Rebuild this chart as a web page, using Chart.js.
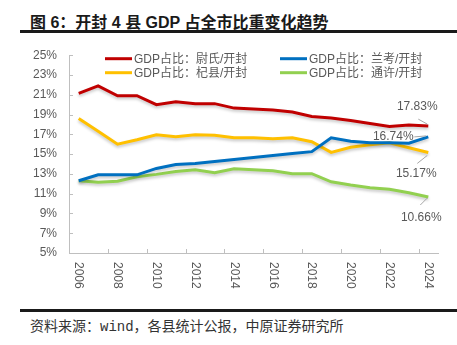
<!DOCTYPE html>
<html lang="zh-CN">
<head>
<meta charset="UTF-8">
<title>开封4县GDP占全市比重变化趋势</title>
<style>
  body { margin: 0; background: #fff; width: 457px; height: 345px; position: relative; overflow: hidden; }
  .title { position: absolute; left: 30px; top: 9px; line-height: 20px; font: bold 16px "Liberation Sans", "Noto Sans CJK SC", sans-serif; color: #1a1a1a; white-space: nowrap; }
  .rule { position: absolute; left: 20px; right: 0; height: 3px; background: #1a1a1a; }
  .source { position: absolute; left: 30px; top: 315px; line-height: 18px; font: 14px "Liberation Mono", "Noto Sans CJK SC", monospace; color: #333; white-space: nowrap; }
  #wrap { position: absolute; left: 0; top: 36px; width: 457px; height: 270px; }
</style>
<script src="https://cdn.jsdelivr.net/npm/chart.js"></script>
</head>
<body>
<div class="title">图 6：开封 4 县 GDP 占全市比重变化趋势</div>
<div class="rule" style="top:30px"></div>
<div id="wrap"><canvas id="chart" width="457" height="270"></canvas></div>
<div class="rule" style="top:309px"></div>
<div class="source">资料来源：wind，各县统计公报，中原证券研究所</div>

<script>
// 年份与各县 GDP 占开封全市比重（%）
const years = ['2006','2007','2008','2009','2010','2011','2012','2013','2014','2015',
               '2016','2017','2018','2019','2020','2021','2022','2023','2024'];
const weishi = [21.15, 21.9, 20.9, 20.9, 20.0, 20.3, 20.1, 20.1, 19.65, 19.55,
                19.45, 19.25, 18.8, 18.66, 18.4, 18.1, 17.8, 17.95, 17.83];
const lankao = [12.3, 12.9, 12.9, 12.9, 13.55, 13.95, 14.05, 14.25, 14.45, 14.65,
                14.85, 15.05, 15.25, 16.65, 16.3, 16.15, 16.15, 16.1, 16.74];
const qixian = [18.6, 17.3, 16.0, 16.45, 16.95, 16.75, 16.95, 16.9, 16.65, 16.65,
                16.55, 16.65, 16.25, 15.17, 15.7, 15.95, 16.15, 15.65, 15.17];
const tongxu = [12.3, 12.15, 12.25, 12.7, 12.95, 13.25, 13.42, 13.12, 13.52, 13.42,
                13.32, 13.02, 13.02, 12.2, 11.87, 11.6, 11.45, 11.1, 10.66];
const seriesNames = ['GDP占比：尉氏/开封', 'GDP占比：兰考/开封', 'GDP占比：杞县/开封', 'GDP占比：通许/开封'];
const yTicks = [5, 7, 9, 11, 13, 15, 17, 19, 21, 23, 25];

const FONT = '"Liberation Sans", "Noto Sans CJK SC", sans-serif';
const TEXT_GRAY = '#595959';
const AXIS_GRAY = '#bfbfbf';
const colors = ['#c00000', '#0070c0', '#ffc000', '#92d050'];

// legend slots (x of line start, row offset from top of plot)
const legendSlots = [[105, 3.5], [280, 3.5], [105, 17.5], [280, 17.5]];
// end-value label offsets from the last point: text centre dx/dy, leader line
const endLabels = [
  { dx: -11, dy: -19, lead: [-10, -7, -1, -2] },
  { dx: -35, dy: 0, lead: [-14, 0, -2, -1] },
  { dx: -12, dy: 21, lead: [-11, 11, -1, 3] },
  { dx: -7, dy: 21, lead: [-8, 8, -1, 1] }
];

const lineShadow = {
  id: 'lineShadow',
  beforeDatasetDraw(chart) {
    const c = chart.ctx;
    c.save();
    c.shadowColor = 'rgba(0,0,0,0.22)';
    c.shadowBlur = 3;
    c.shadowOffsetY = 2;
  },
  afterDatasetDraw(chart) {
    chart.ctx.restore();
  }
};

const axisExtras = {
  id: 'axisExtras',
  afterDraw(chart) {
    const c = chart.ctx;
    const area = chart.chartArea;
    const xs = chart.scales.x, ys = chart.scales.y;
    c.save();
    c.strokeStyle = AXIS_GRAY;
    c.lineWidth = 1;
    // inner tick marks on the value axis
    yTicks.forEach(v => {
      const y = Math.round(ys.getPixelForValue(v)) + 0.5;
      c.beginPath(); c.moveTo(area.left, y); c.lineTo(area.left + 4, y); c.stroke();
    });
    // inner tick marks on the category axis, every two years
    const step = xs.getPixelForValue(1) - xs.getPixelForValue(0);
    for (let k = 2; k <= years.length + 1; k += 2) {
      const x = Math.round(xs.getPixelForValue(k - 1) + step / 2) + 0.5;
      c.beginPath(); c.moveTo(x, area.bottom); c.lineTo(x, area.bottom - 4); c.stroke();
    }
    // year labels, rotated clockwise
    c.fillStyle = TEXT_GRAY;
    c.font = '12px ' + FONT;
    c.textAlign = 'left';
    c.textBaseline = 'middle';
    years.forEach((yr, i) => {
      if (i % 2) return;
      c.save();
      c.translate(xs.getPixelForValue(i), area.bottom + 9);
      c.rotate(Math.PI / 2);
      c.fillText(yr, 0, 0);
      c.restore();
    });
    // legend
    chart.data.datasets.forEach((ds, i) => {
      const [lx, off] = legendSlots[i];
      const y = area.top + off;
      c.strokeStyle = ds.borderColor;
      c.lineWidth = 3;
      c.beginPath(); c.moveTo(lx, y); c.lineTo(lx + 27, y); c.stroke();
      c.fillStyle = TEXT_GRAY;
      c.fillText(ds.label, lx + 29, y + 0.5);
    });
    // end-of-series value labels
    c.textAlign = 'center';
    chart.data.datasets.forEach((ds, i) => {
      const meta = chart.getDatasetMeta(i);
      const last = ds.data.length - 1;
      const p = meta.data[last];
      const s = endLabels[i];
      c.strokeStyle = '#a6a6a6';
      c.lineWidth = 1;
      c.beginPath();
      c.moveTo(p.x + s.lead[0], p.y + s.lead[1]);
      c.lineTo(p.x + s.lead[2], p.y + s.lead[3]);
      c.stroke();
      c.fillStyle = TEXT_GRAY;
      c.fillText(ds.data[last].toFixed(2) + '%', p.x + s.dx, p.y + s.dy);
    });
    c.restore();
  }
};

const seriesData = [weishi, lankao, qixian, tongxu];

new Chart(document.getElementById('chart'), {
  type: 'line',
  data: {
    labels: years,
    datasets: seriesData.map((d, i) => ({
      label: seriesNames[i],
      data: d,
      borderColor: colors[i],
      backgroundColor: colors[i],
      borderWidth: 3,
      pointRadius: 0,
      tension: 0,
      fill: false
    }))
  },
  options: {
    responsive: false,
    animation: false,
    devicePixelRatio: 1,
    layout: { padding: { top: 15, right: 19, left: 0, bottom: 0 } },
    plugins: {
      legend: { display: false },
      tooltip: { enabled: false }
    },
    scales: {
      x: {
        offset: true,
        ticks: { display: false },
        grid: { drawOnChartArea: false, drawTicks: false },
        border: { color: AXIS_GRAY },
        afterFit(s) { s.height = 53; }
      },
      y: {
        min: 5,
        max: 25,
        afterBuildTicks(s) { s.ticks = yTicks.map(v => ({ value: v })); },
        ticks: {
          callback: v => v + '%',
          color: TEXT_GRAY,
          font: { family: FONT, size: 12 },
          padding: 12
        },
        grid: { drawOnChartArea: false, drawTicks: false },
        border: { color: AXIS_GRAY },
        afterFit(s) { s.width = 69; }
      }
    }
  },
  plugins: [lineShadow, axisExtras]
});
</script>
</body>
</html>
